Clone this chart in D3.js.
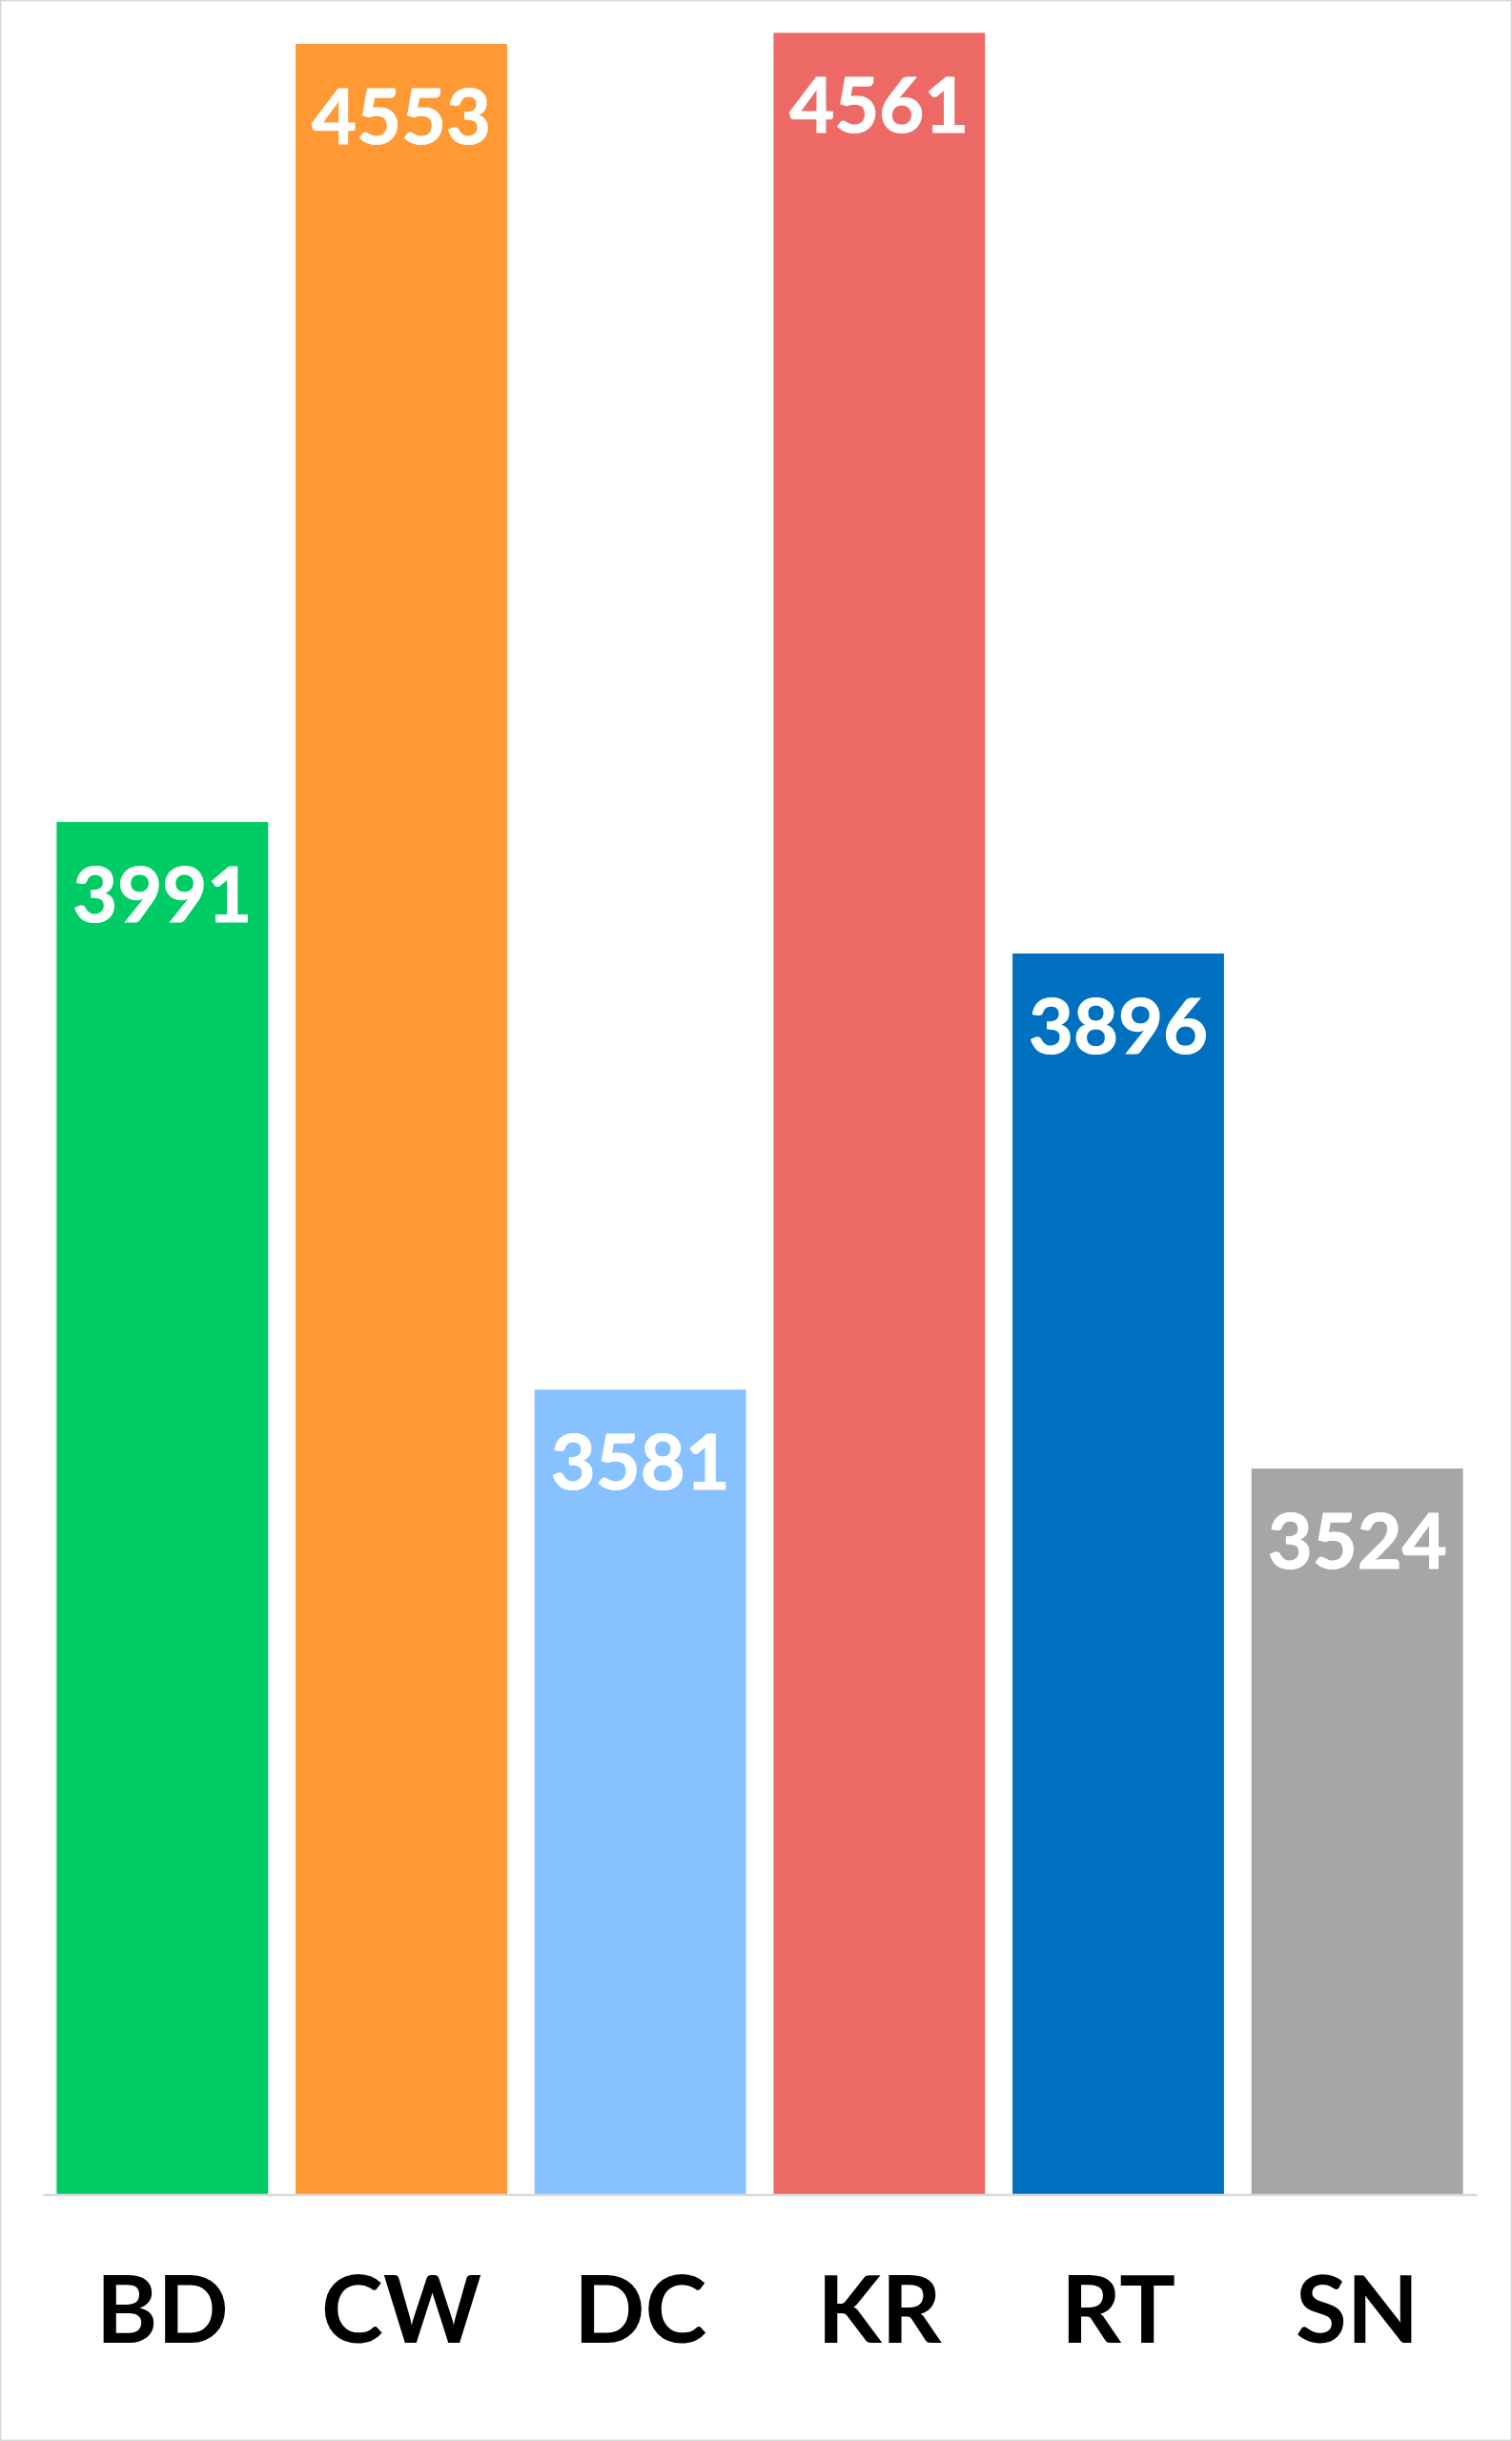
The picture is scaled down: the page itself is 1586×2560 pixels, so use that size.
<!DOCTYPE html>
<html>
<head>
<meta charset="utf-8">
<script src="https://cdn.jsdelivr.net/npm/d3@7"></script>
<style>
  html, body { margin: 0; padding: 0; background: #fff; }
  svg { display: block; }
</style>
</head>
<body>
<script>
const categories = ["BD", "CW", "DC", "KR", "RT", "SN"];
const values = [3991, 4553, 3581, 4561, 3896, 3524];
const colors = ["#00CC66", "#FF9933", "#87C1FF", "#EC6966", "#0070C0", "#A6A6A6"];
const yDomain = [3000, 4600];

const W = 1586, H = 2560;
const svg = d3.select("body").append("svg").attr("width", W).attr("height", H);

// outer border
svg.append("rect").attr("x", 0.75).attr("y", 0.75).attr("width", W - 1.5).attr("height", H - 1.5)
  .attr("fill", "#fff").attr("stroke", "#d9d9d9").attr("stroke-width", 1.5);

const x = d3.scaleBand().domain(categories).range([45, 1549]).paddingInner(0.115).paddingOuter(0.0575);
const baseY = 2301;
const y = d3.scaleLinear().domain(yDomain).range([baseY, baseY - 1600 * 1.452]);

const data = categories.map((c, i) => ({ c, v: values[i], col: colors[i] }));

svg.selectAll("rect.bar").data(data).enter().append("rect").attr("class", "bar")
  .attr("x", d => x(d.c)).attr("y", d => y(d.v))
  .attr("width", x.bandwidth()).attr("height", d => baseY - y(d.v))
  .attr("fill", d => d.col);

// axis line
const xAxis = d3.axisBottom(x).tickSize(0).tickPadding(0);
const ax = svg.append("g").attr("transform", `translate(0,${baseY + 0.5})`).call(xAxis);
ax.select(".domain").attr("stroke", "#d9d9d9").attr("stroke-width", 2.5);
ax.selectAll(".tick text")
  .attr("y", 155).attr("dy", 0)
  .attr("font-family", "Lato, 'Open Sans', sans-serif").attr("font-weight", "bold")
  .attr("font-size", 98).attr("fill", "#000");

// value labels
svg.selectAll("text.val").data(data).enter().append("text").attr("class", "val")
  .attr("x", d => x(d.c) + x.bandwidth() / 2).attr("y", d => y(d.v) + 105)
  .attr("text-anchor", "middle")
  .attr("font-family", "Lato, 'Open Sans', sans-serif").attr("font-weight", "bold")
  .attr("font-size", 81).attr("fill", "#fff")
  .attr("stroke", "#fff").attr("stroke-width", 1.2)
  .text(d => d.v);
</script>
</body>
</html>
